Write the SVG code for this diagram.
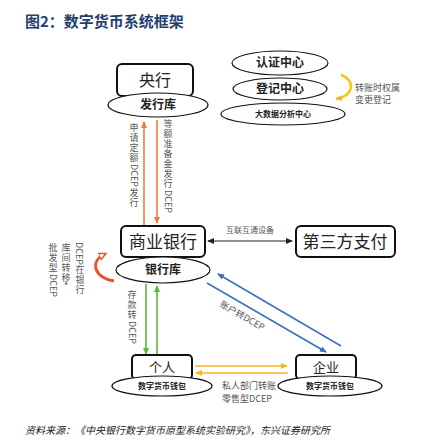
<svg xmlns="http://www.w3.org/2000/svg" width="434" height="443" viewBox="0 0 434 443">
<style>
text{font-family:"Noto Sans CJK SC","Liberation Sans",sans-serif;fill:#222}
.box{fill:#fff;stroke:#111;stroke-width:2}
.ell{fill:#fff;stroke:#111;stroke-width:1.2}
.lbl{fill:#555;font-size:9px}
.v text{fill:#555;font-size:9px;text-anchor:middle}
.v text.r{text-anchor:start}
</style>
<defs>
<marker id="ao" markerWidth="8" markerHeight="8" refX="6" refY="4" orient="auto" markerUnits="userSpaceOnUse"><path d="M0,1 L7,4 L0,7 z" fill="#f07c3a"/></marker>
<marker id="ar" markerWidth="9" markerHeight="9" refX="6" refY="4.5" orient="auto" markerUnits="userSpaceOnUse"><path d="M0,1 L7,4.5 L0,8 z" fill="#fff" stroke="#e8542a" stroke-width="1.5"/></marker>
<marker id="ag" markerWidth="8" markerHeight="8" refX="6" refY="4" orient="auto" markerUnits="userSpaceOnUse"><path d="M0,1 L7,4 L0,7 z" fill="#5cb83a"/></marker>
<marker id="ab" markerWidth="8" markerHeight="8" refX="6" refY="4" orient="auto" markerUnits="userSpaceOnUse"><path d="M0,1 L7,4 L0,7 z" fill="#3e6fc4"/></marker>
<marker id="ay" markerWidth="8" markerHeight="8" refX="6" refY="4" orient="auto" markerUnits="userSpaceOnUse"><path d="M0,1 L7,4 L0,7 z" fill="#f5b820"/></marker>
<marker id="ak" markerWidth="8" markerHeight="8" refX="6" refY="4" orient="auto-start-reverse" markerUnits="userSpaceOnUse"><path d="M0,1 L7,4 L0,7 z" fill="#222"/></marker>
</defs>
<rect width="434" height="443" fill="#fff"/>
<text x="25" y="27" style="font-size:15px;font-weight:bold;fill:#1f3f70">图2：数字货币系统框架</text>

<g id="connectors">
<line x1="144" y1="225" x2="144" y2="122" stroke="#f07c3a" stroke-width="1.6" marker-end="url(#ao)"/>
<line x1="157" y1="120" x2="157" y2="223" stroke="#f07c3a" stroke-width="1.6" marker-end="url(#ao)"/>
<line x1="208" y1="241" x2="292" y2="241" stroke="#222" stroke-width="1" marker-start="url(#ak)" marker-end="url(#ak)"/>
<line x1="146" y1="284" x2="146" y2="354" stroke="#5cb83a" stroke-width="1.6" marker-end="url(#ag)"/>
<line x1="157" y1="355" x2="157" y2="286" stroke="#5cb83a" stroke-width="1.6" marker-end="url(#ag)"/>
<line x1="207" y1="283" x2="326" y2="352" stroke="#3e6fc4" stroke-width="1.6" marker-end="url(#ab)"/>
<line x1="341" y1="346" x2="218" y2="274" stroke="#3e6fc4" stroke-width="1.6" marker-end="url(#ab)"/>
<line x1="195" y1="366" x2="287" y2="366" stroke="#f5b820" stroke-width="1.6" marker-end="url(#ay)"/>
<line x1="288" y1="373" x2="196" y2="373" stroke="#f5b820" stroke-width="1.6" marker-end="url(#ay)"/>
<path d="M114 281 C96 279 88 262 105 254" fill="none" stroke="#e8542a" stroke-width="3" marker-end="url(#ar)"/>
<path d="M341 75 C356 80 354 96 336 99" fill="none" stroke="#f5c518" stroke-width="2.5" marker-end="url(#ay)"/>

<g class="v">
<text><tspan x="134" y="131">申</tspan><tspan x="134" y="141">请</tspan><tspan x="134" y="151">定</tspan><tspan x="134" y="161">额</tspan></text>
<text class="r" transform="translate(130.7,164) rotate(90)">DCEP</text>
<text><tspan x="134" y="196">发</tspan><tspan x="134" y="206">行</tspan></text>

<text><tspan x="168" y="127">等</tspan><tspan x="168" y="137">额</tspan><tspan x="168" y="147">准</tspan><tspan x="168" y="157">备</tspan><tspan x="168" y="167">金</tspan><tspan x="168" y="177">发</tspan><tspan x="168" y="187">行</tspan></text>
<text class="r" transform="translate(164.7,190) rotate(90)">DCEP</text>

<text><tspan x="132" y="298">存</tspan><tspan x="132" y="308">款</tspan><tspan x="132" y="318">转</tspan></text>
<text class="r" transform="translate(128.7,321) rotate(90)">DCEP</text>

<text class="r" transform="translate(76.2,242) rotate(90)">DCEP</text>
<text><tspan x="80" y="273">在</tspan><tspan x="80" y="283">银</tspan><tspan x="80" y="293">行</tspan></text>

<text><tspan x="66" y="251">库</tspan><tspan x="66" y="261">间</tspan><tspan x="66" y="271">转</tspan><tspan x="66" y="281">移</tspan><tspan x="66" y="289">*</tspan></text>

<text><tspan x="53" y="251">批</tspan><tspan x="53" y="261">发</tspan><tspan x="53" y="271">型</tspan></text>
<text class="r" transform="translate(49.7,274) rotate(90)">DCEP</text>
</g>

<text class="lbl" x="250" y="233" text-anchor="middle" style="font-size:8px">互联互通设备</text>
<text class="lbl" transform="translate(219,306) rotate(30)">账户转DCEP</text>
<text class="lbl" x="222" y="389">私人部门转账</text>
<text class="lbl" x="222" y="402">零售型DCEP</text>
<text class="lbl" x="355" y="91">转账时权属</text>
<text class="lbl" x="355" y="103">变更登记</text>
</g>

<g id="central">
<rect class="box" x="117" y="64" width="76" height="32" rx="5"/>
<text x="155" y="86" text-anchor="middle" style="font-size:16px">央行</text>
</g>
<g id="issue">
<ellipse class="ell" cx="158" cy="105" rx="50" ry="12"/>
<text x="158" y="109" text-anchor="middle" style="font-size:12px;font-weight:bold">发行库</text>
</g>
<g id="auth">
<ellipse class="ell" cx="280" cy="63" rx="48" ry="12"/>
<text x="280" y="67" text-anchor="middle" style="font-size:12px;font-weight:bold">认证中心</text>
</g>
<g id="reg">
<ellipse class="ell" cx="280" cy="89" rx="47" ry="11"/>
<text x="280" y="93" text-anchor="middle" style="font-size:12px;font-weight:bold">登记中心</text>
</g>
<g id="bigdata">
<ellipse class="ell" cx="283" cy="114" rx="62" ry="11"/>
<text x="283" y="117" text-anchor="middle" style="font-size:8px;font-weight:bold">大数据分析中心</text>
</g>
<g id="bank">
<rect class="box" x="121" y="226" width="84" height="31" rx="5"/>
<text x="163" y="248" text-anchor="middle" style="font-size:17px">商业银行</text>
</g>
<g id="bankvault">
<ellipse class="ell" cx="163" cy="270" rx="47" ry="13"/>
<text x="163" y="274" text-anchor="middle" style="font-size:12px;font-weight:bold">银行库</text>
</g>
<g id="thirdparty">
<rect class="box" x="296" y="226" width="99" height="31" rx="5"/>
<text x="345" y="248" text-anchor="middle" style="font-size:17px">第三方支付</text>
</g>
<g id="person">
<rect class="box" x="132" y="355" width="60" height="24" rx="4"/>
<text x="162" y="372" text-anchor="middle" style="font-size:13px">个人</text>
</g>
<g id="wallet1">
<ellipse class="ell" cx="162" cy="386" rx="50" ry="10"/>
<text x="162" y="389" text-anchor="middle" style="font-size:8px;font-weight:bold">数字货币钱包</text>
</g>
<g id="company">
<rect class="box" x="296" y="355" width="60" height="24" rx="4"/>
<text x="326" y="372" text-anchor="middle" style="font-size:13px">企业</text>
</g>
<g id="wallet2">
<ellipse class="ell" cx="330" cy="386" rx="52" ry="10"/>
<text x="330" y="389" text-anchor="middle" style="font-size:8px;font-weight:bold">数字货币钱包</text>
</g>
<text x="25" y="434" style="font-size:10px;font-style:italic;font-family:'Noto Sans CJK SC','Liberation Serif',serif">资料来源：《中央银行数字货币原型系统实验研究》，东兴证券研究所</text>
</svg>
